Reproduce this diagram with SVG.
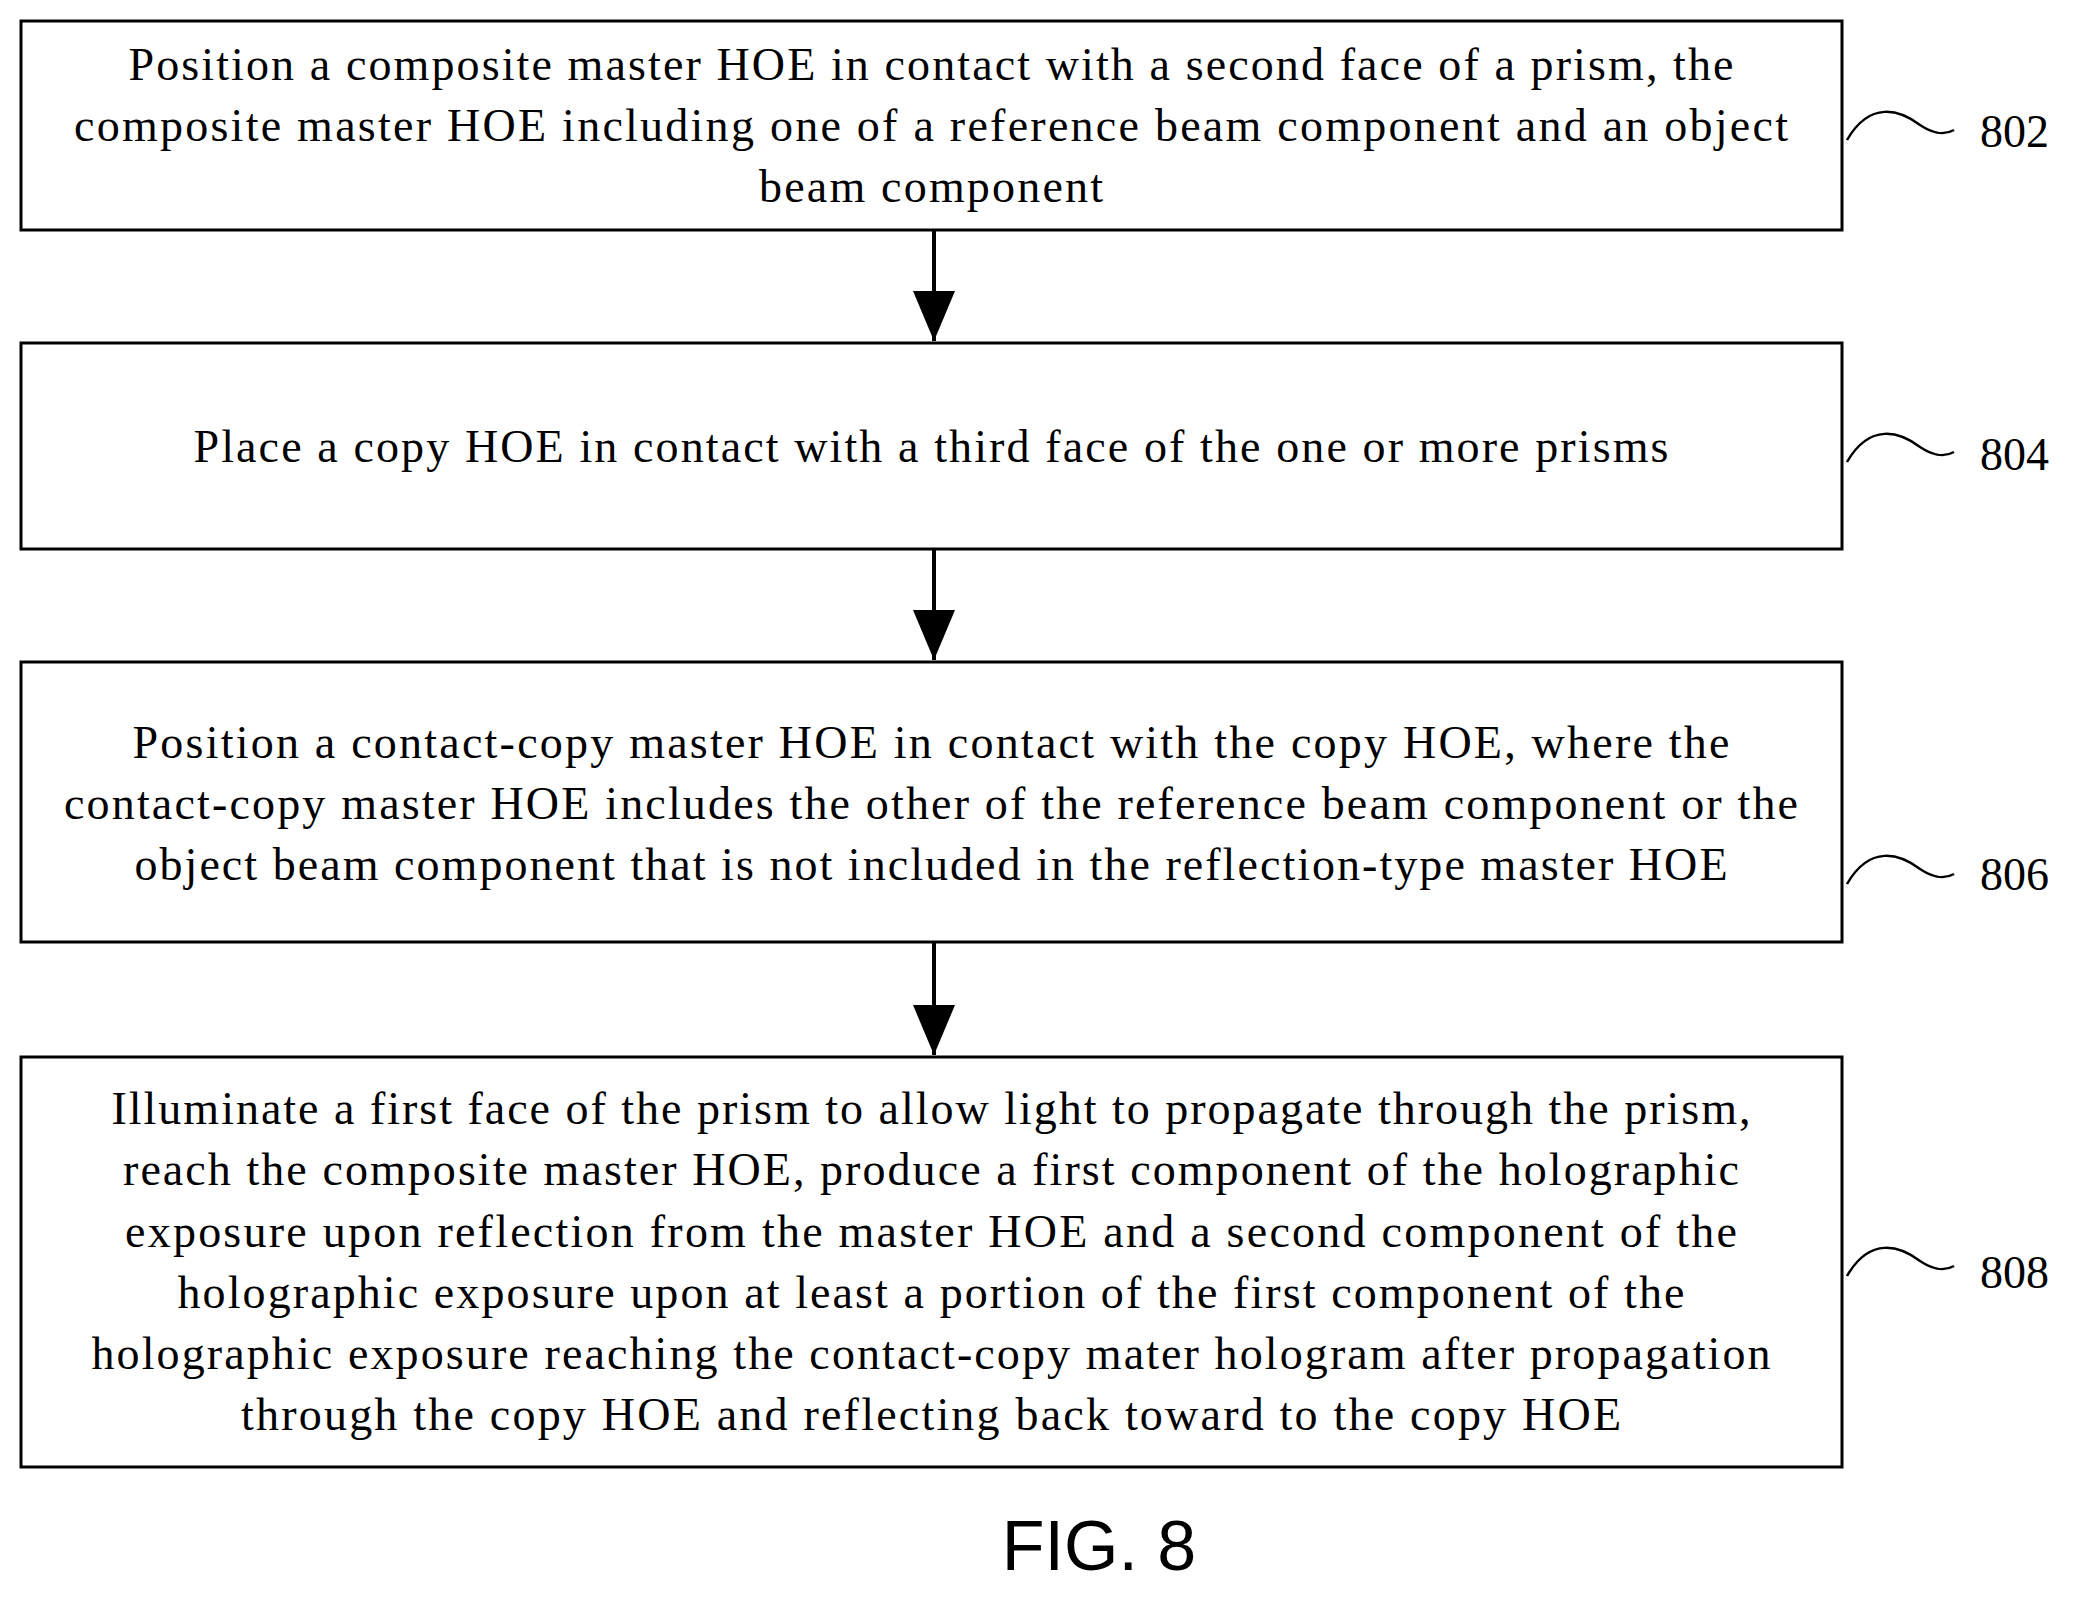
<svg xmlns="http://www.w3.org/2000/svg" width="2084" height="1598" viewBox="0 0 2084 1598">
<style>
.box{fill:#fff;stroke:#000;stroke-width:3}
.t{font-family:"Liberation Serif",serif;font-size:46px;text-anchor:middle}
.l{font-family:"Liberation Serif",serif;font-size:46px}
.sq{fill:none;stroke:#000;stroke-width:2.5}
.c{stroke:#000;stroke-width:4;fill:none}
</style>
<defs><marker id="ah" markerWidth="50" markerHeight="42" refX="50" refY="21" orient="auto" markerUnits="userSpaceOnUse"><path d="M0,0L50,21L0,42z"/></marker></defs>
<rect width="2084" height="1598" fill="#fff"/>
<g id="n802"><rect class="box" x="21" y="21" width="1821" height="209"/>
<text class="t" x="931" y="80" textLength="1605" lengthAdjust="spacing">Position a composite master HOE in contact with a second face of a prism, the</text>
<text class="t" x="931" y="141" textLength="1714" lengthAdjust="spacing">composite master HOE including one of a reference beam component and an object</text>
<text class="t" x="931" y="202" textLength="344" lengthAdjust="spacing">beam component</text>
<path class="sq" d="M1847,140 C1870,100 1900,110 1920,125 C1935,135 1945,135 1954,130"/>
<text class="l" x="1980" y="147">802</text></g>
<g id="n804"><rect class="box" x="21" y="343" width="1821" height="206"/>
<text class="t" x="931" y="462" textLength="1475" lengthAdjust="spacing">Place a copy HOE in contact with a third face of the one or more prisms</text>
<path class="sq" d="M1847,462 C1870,422 1900,432 1920,447 C1935,457 1945,457 1954,452"/>
<text class="l" x="1980" y="470">804</text></g>
<g id="n806"><rect class="box" x="21" y="662" width="1821" height="280"/>
<text class="t" x="931" y="758" textLength="1597" lengthAdjust="spacing">Position a contact-copy master HOE in contact with the copy HOE, where the</text>
<text class="t" x="931" y="819" textLength="1734" lengthAdjust="spacing">contact-copy master HOE includes the other of the reference beam component or the</text>
<text class="t" x="931" y="880" textLength="1593" lengthAdjust="spacing">object beam component that is not included in the reflection-type master HOE</text>
<path class="sq" d="M1847,884 C1870,844 1900,854 1920,869 C1935,879 1945,879 1954,874"/>
<text class="l" x="1980" y="890">806</text></g>
<g id="n808"><rect class="box" x="21" y="1057" width="1821" height="410"/>
<text class="t" x="931" y="1124" textLength="1639" lengthAdjust="spacing">Illuminate a first face of the prism to allow light to propagate through the prism,</text>
<text class="t" x="931" y="1185" textLength="1616" lengthAdjust="spacing">reach the composite master HOE, produce a first component of the holographic</text>
<text class="t" x="931" y="1247" textLength="1612" lengthAdjust="spacing">exposure upon reflection from the master HOE and a second component of the</text>
<text class="t" x="931" y="1308" textLength="1507" lengthAdjust="spacing">holographic exposure upon at least a portion of the first component of the</text>
<text class="t" x="931" y="1369" textLength="1679" lengthAdjust="spacing">holographic exposure reaching the contact-copy mater hologram after propagation</text>
<text class="t" x="931" y="1430" textLength="1380" lengthAdjust="spacing">through the copy HOE and reflecting back toward to the copy HOE</text>
<path class="sq" d="M1847,1276 C1870,1236 1900,1246 1920,1261 C1935,1271 1945,1271 1954,1266"/>
<text class="l" x="1980" y="1288">808</text></g>
<g id="connectors">
<line class="c" x1="934" y1="230" x2="934" y2="341" marker-end="url(#ah)"/>
<line class="c" x1="934" y1="549" x2="934" y2="660" marker-end="url(#ah)"/>
<line class="c" x1="934" y1="942" x2="934" y2="1055" marker-end="url(#ah)"/>
</g>
<text x="1099" y="1570" style="font-family:'Liberation Sans',sans-serif;font-size:70px;text-anchor:middle">FIG. 8</text>
</svg>
